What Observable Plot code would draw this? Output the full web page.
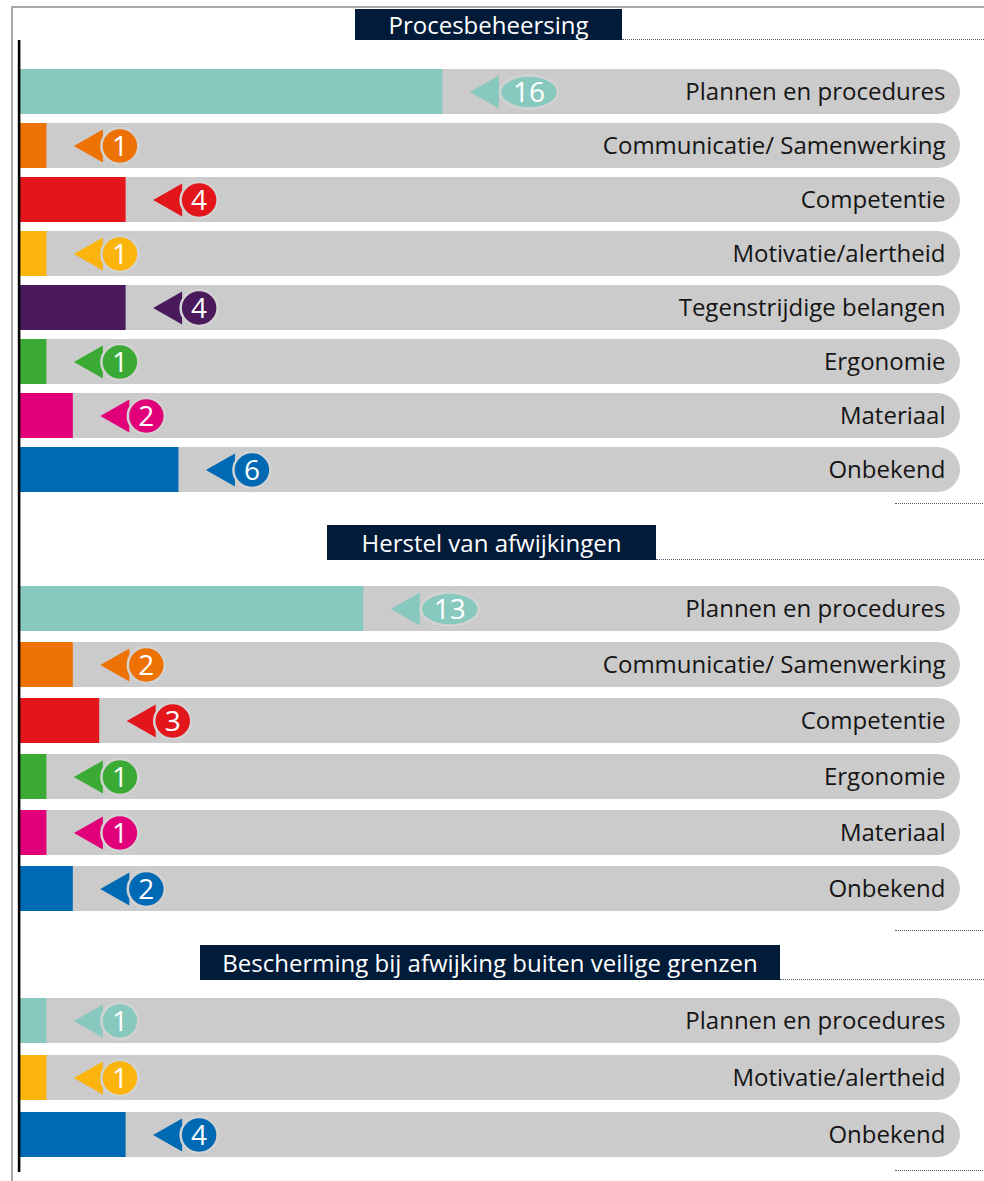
<!DOCTYPE html>
<html>
<head>
<meta charset="utf-8">
<script src="https://cdn.jsdelivr.net/npm/d3@7"></script>
<script src="https://cdn.jsdelivr.net/npm/@observablehq/plot@0.6"></script>
<style>
  html, body { margin: 0; padding: 0; background: #fff; }
  body { font-family: "Open Sans", sans-serif; }
  #chart { position: relative; width: 984px; height: 1181px; overflow: hidden; }
  .frame { position: absolute; left: 11px; top: 6px; right: -4px; bottom: -4px;
           border-top: 2px solid #a9a9a9; border-left: 2px solid #a9a9a9; }
  .section { position: absolute; left: 0; width: 984px; }
  .section svg { display: block; }
  .header { position: absolute; background: #011b39; color: #fff; font-size: 24px;
            display: flex; align-items: center; justify-content: center; white-space: nowrap; }
  .header::after { content: ""; position: absolute; left: 100%; bottom: 0; width: 1000px;
                   border-bottom: 1.5px dotted #4b5d72; }
  .endline { position: absolute; left: 895px; width: 100px; border-top: 1.5px dotted #4b5d72; }
</style>
</head>
<body>
<div id="chart"><div class="frame"></div></div>
<script>
// Counts of contributing factors per barrier function
const sectionTitles = ["Procesbeheersing", "Herstel van afwijkingen", "Bescherming bij afwijking buiten veilige grenzen"];

const procesCategories = ["Plannen en procedures", "Communicatie/ Samenwerking", "Competentie", "Motivatie/alertheid",
  "Tegenstrijdige belangen", "Ergonomie", "Materiaal", "Onbekend"];
const procesCounts = [16, 1, 4, 1, 4, 1, 2, 6];

const herstelCategories = ["Plannen en procedures", "Communicatie/ Samenwerking", "Competentie", "Ergonomie", "Materiaal", "Onbekend"];
const herstelCounts = [13, 2, 3, 1, 1, 2];

const beschermingCategories = ["Plannen en procedures", "Motivatie/alertheid", "Onbekend"];
const beschermingCounts = [1, 1, 4];

// Colour per factor
const factorOrder = ["Plannen en procedures", "Communicatie/ Samenwerking", "Competentie", "Motivatie/alertheid",
  "Tegenstrijdige belangen", "Ergonomie", "Materiaal", "Onbekend"];
const factorColors = ["#88c9bf", "#ee7203", "#e3171b", "#fbb40c", "#4a1a5c", "#3aaa35", "#e2007a", "#0069b4"];

// Length of the grey track behind every bar, in counts
const trackMax = 35.6;

// Layout of the three stacked panels
const layouts = [
  {top: 0,   height: 510, marginTop: 62.3, marginBottom: 12.5, pad: 0.173, axisTop: -22.3, axisBottom: -12.5,
   header: {left: 355, top: 9, width: 267, height: 31}, endLine: 503},
  {top: 510, height: 425, marginTop: 68.7, marginBottom: 16.7, pad: 0.205, axisTop: -68.7, axisBottom: -16.7,
   header: {left: 327, top: 15, width: 329, height: 35}, endLine: 420},
  {top: 935, height: 246, marginTop: 57.5, marginBottom: 17.5, pad: 0.21, axisTop: -57.5, axisBottom: -8.5,
   header: {left: 200, top: 10, width: 580, height: 35}, endLine: 235}
];

// Marker shapes, drawn relative to the end of each bar (pixels)
const tipGap = 27;
const arrowHead = {
  draw(ctx) {
    ctx.moveTo(tipGap, 0);
    ctx.lineTo(tipGap + 29, -16.5);
    ctx.lineTo(tipGap + 29, 16.5);
    ctx.closePath();
  }
};
function ellipseSymbol(cx, rx, ry) {
  const k = 0.5523;
  return {
    draw(ctx) {
      ctx.moveTo(cx + rx, 0);
      ctx.bezierCurveTo(cx + rx, k * ry, cx + k * rx, ry, cx, ry);
      ctx.bezierCurveTo(cx - k * rx, ry, cx - rx, k * ry, cx - rx, 0);
      ctx.bezierCurveTo(cx - rx, -k * ry, cx - k * rx, -ry, cx, -ry);
      ctx.bezierCurveTo(cx + k * rx, -ry, cx + rx, -k * ry, cx + rx, 0);
      ctx.closePath();
    }
  };
}
const badgeOneDigit = {offset: tipGap + 46, symbol: ellipseSymbol(tipGap + 46, 18.5, 18)};
const badgeTwoDigit = {offset: tipGap + 59, symbol: ellipseSymbol(tipGap + 59, 29, 16.5)};

function panel(categories, counts, lay) {
  const rows = categories.map((category, i) => ({category, count: counts[i]}));
  const small = rows.filter(d => d.count < 10);
  const large = rows.filter(d => d.count >= 10);
  const badgeMarks = (data, badge) => [
    Plot.dot(data, {x: "count", y: "category", fill: "category", symbol: badge.symbol, r: 10,
                    stroke: "#d2d2d2", strokeWidth: 2.5}),
    Plot.text(data, {x: "count", y: "category", text: d => String(d.count), dx: badge.offset,
                     fill: "#fff", fontSize: 28, dy: 1})
  ];
  return Plot.plot({
    width: 984,
    height: lay.height,
    marginLeft: 20,
    marginRight: 24,
    marginTop: lay.marginTop,
    marginBottom: lay.marginBottom,
    x: {domain: [0, trackMax], axis: null},
    y: {domain: categories, axis: null, paddingInner: lay.pad, paddingOuter: lay.pad / 2},
    color: {domain: factorOrder, range: factorColors},
    style: {fontFamily: "'Open Sans', sans-serif", background: "transparent", overflow: "visible"},
    marks: [
      // grey track with a rounded right end
      Plot.barX(rows, {x1: 0, x2: trackMax, y: "category", fill: "#cbcbcb", rx: 22.5}),
      Plot.barX(rows, {x1: 0, x2: trackMax / 2, y: "category", fill: "#cbcbcb"}),
      // the counts
      Plot.barX(rows, {x1: 0, x2: "count", y: "category", fill: "category"}),
      Plot.dot(rows, {x: "count", y: "category", fill: "category", symbol: arrowHead, r: 10, stroke: "none"}),
      ...badgeMarks(small, badgeOneDigit),
      ...badgeMarks(large, badgeTwoDigit),
      // factor names
      Plot.text(rows, {x: trackMax, y: "category", text: "category", textAnchor: "end", dx: -15,
                       fontSize: 24, fill: "#151515"}),
      // vertical axis line
      Plot.ruleX([0], {stroke: "#000", strokeWidth: 2.6, dx: -1.4,
                       insetTop: lay.axisTop, insetBottom: lay.axisBottom})
    ]
  });
}

const chart = document.getElementById("chart");
const panelData = [
  [procesCategories, procesCounts],
  [herstelCategories, herstelCounts],
  [beschermingCategories, beschermingCounts]
];
panelData.forEach(([cats, counts], i) => {
  const lay = layouts[i];
  const section = document.createElement("div");
  section.className = "section";
  section.style.top = lay.top + "px";
  section.style.height = lay.height + "px";
  section.appendChild(panel(cats, counts, lay));

  const header = document.createElement("div");
  header.className = "header";
  Object.assign(header.style, {
    left: lay.header.left + "px", top: lay.header.top + "px",
    width: lay.header.width + "px", height: lay.header.height + "px"
  });
  header.textContent = sectionTitles[i];
  section.appendChild(header);

  const end = document.createElement("div");
  end.className = "endline";
  end.style.top = lay.endLine + "px";
  section.appendChild(end);

  chart.appendChild(section);
});
</script>
</body>
</html>
